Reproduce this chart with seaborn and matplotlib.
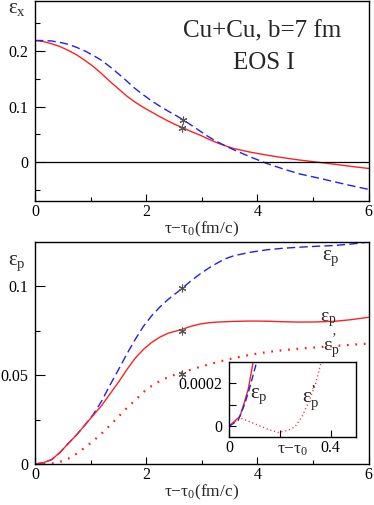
import numpy as np
import pandas as pd
import matplotlib
matplotlib.use("Agg")
import matplotlib.pyplot as plt
from matplotlib.ticker import MultipleLocator, FixedLocator
import seaborn as sns

# ---------------- data ----------------
# top panel: spatial eccentricity eps_x
tx = [0, 0.15, 0.3, 0.45, 0.6, 0.75, 0.9, 1.05, 1.2, 1.35, 1.5, 1.65, 1.8, 1.95, 2.1, 2.25,
      2.4, 2.55, 2.66, 2.8, 2.97, 3.12, 3.27, 3.42, 3.57, 3.87, 4.17, 4.47, 4.77, 5.07, 5.37,
      5.67, 6.0]
ex_red = [0.219, 0.217, 0.213, 0.208, 0.201, 0.193, 0.183, 0.172, 0.159, 0.145, 0.132, 0.119,
          0.108, 0.0985, 0.090, 0.0815, 0.0736, 0.0665, 0.0618, 0.0555, 0.0485, 0.0415, 0.035,
          0.0295, 0.0246, 0.018, 0.0126, 0.0078, 0.0036, 0.0, -0.0036, -0.0075, -0.0114]
ex_blue = [0.219, 0.2188, 0.218, 0.2155, 0.212, 0.2065, 0.200, 0.192, 0.183, 0.1715, 0.159,
           0.146, 0.1325, 0.121, 0.110, 0.1005, 0.0915, 0.083, 0.0765, 0.0672, 0.0558, 0.0458,
           0.037, 0.0295, 0.0225, 0.0095, -0.0024, -0.0125, -0.0215, -0.028, -0.035, -0.042,
           -0.049]
star_top_t = [2.66, 2.64]
star_top_v = [0.0765, 0.0618]

# bottom panel: momentum anisotropy eps_p
tp = [0, 0.15, 0.3, 0.45, 0.6, 0.75, 0.9, 1.05, 1.2, 1.35, 1.5, 1.65, 1.8, 1.95, 2.1, 2.25,
      2.4, 2.64, 2.8, 2.97, 3.12, 3.27, 3.42, 3.57, 3.87, 4.17, 4.47, 4.77, 5.07, 5.37, 5.67, 6.0]
ep_blue = [0, 0.0007, 0.0025, 0.0065, 0.0116, 0.0165, 0.022, 0.028, 0.0355, 0.0445, 0.053,
           0.0618, 0.070, 0.0775, 0.0835, 0.0885, 0.0928, 0.0987, 0.103, 0.107, 0.1102, 0.113,
           0.1155, 0.1172, 0.1192, 0.1206, 0.1215, 0.1221, 0.1226, 0.123, 0.1238, 0.1249]
ep_red = [0, 0.0007, 0.0025, 0.0065, 0.0116, 0.0165, 0.022, 0.0275, 0.033, 0.0395, 0.046,
          0.053, 0.0595, 0.0645, 0.0685, 0.0715, 0.0737, 0.0757, 0.0775, 0.0788, 0.0795, 0.0799,
          0.0801, 0.0803, 0.0805, 0.0804, 0.0801, 0.0799, 0.080, 0.0803, 0.0812, 0.0826]
tq = [0, 0.2, 0.36, 0.45, 0.6, 0.75, 0.9, 1.05, 1.2, 1.35, 1.5, 1.65, 1.8, 1.95, 2.1, 2.25,
      2.4, 2.64, 2.97, 3.27, 3.57, 3.87, 4.17, 4.47, 4.77, 5.07, 5.37, 5.67, 6.0]
epq_red = [0, 0, 0.0005, 0.0012, 0.003, 0.0058, 0.0093, 0.013, 0.0172, 0.0218, 0.0266, 0.0315,
           0.0358, 0.0405, 0.044, 0.0468, 0.049, 0.0515, 0.0547, 0.0573, 0.0596, 0.0615, 0.063,
           0.0641, 0.065, 0.0657, 0.0664, 0.0671, 0.0678]
star_bot_t = [2.65, 2.65, 2.65]
star_bot_v = [0.099, 0.0751, 0.0506]

# inset (early times)
ti_red = [0, 0.043, 0.06, 0.076, 0.095]
vi_red = [0, 4.6e-5, 1.1e-4, 1.75e-4, 3.0e-4]
ti_blue = [0, 0.036, 0.063, 0.085, 0.109]
vi_blue = [0, 2.8e-5, 1.07e-4, 1.95e-4, 3.0e-4]
ti_dot = [0, 0.043, 0.08, 0.115, 0.155, 0.193, 0.23, 0.259, 0.285, 0.311, 0.34, 0.363]
vi_dot = [0, 4.0e-5, 2.2e-5, 0.5e-5, -1.5e-5, -2.9e-5, -2.0e-5, -0.3e-5, 4.0e-5, 1.05e-4,
          1.95e-4, 3.0e-4]

xticks_main = [0, 2, 4, 6]
xticklabels_main = ["0", "2", "4", "6"]

# ---------------- style ----------------
sns.set_style("ticks")
plt.rcParams["font.family"] = ["Liberation Serif", "DejaVu Serif"]
plt.rcParams["mathtext.fontset"] = "custom"
plt.rcParams["mathtext.rm"] = "Liberation Serif"
plt.rcParams["mathtext.it"] = "Liberation Serif"
plt.rcParams["axes.linewidth"] = 1.0
plt.rcParams["axes.edgecolor"] = "black"

W, H = 374, 505
fig = plt.figure(figsize=(W / 100, H / 100), dpi=100)

def fr(l, t, r, b):
    return [l / W, 1 - b / H, (r - l) / W, (b - t) / H]

ax1 = fig.add_axes(fr(35, 1, 368.5, 201))
ax2 = fig.add_axes(fr(35, 242, 368.5, 464))
ax3 = fig.add_axes(fr(229, 362, 356, 437))

RED = "#ff2020"
BLUE = "#2020ee"
STAR = "#555555"
LW = 1.0
EPS_FS = 15

def style_axes(ax, fs=11.5):
    for s in ["top", "right", "left", "bottom"]:
        ax.spines[s].set_visible(True)
        ax.spines[s].set_color("black")
    ax.tick_params(which="both", direction="in", top=False, right=False,
                   labelsize=fs, colors="black")
    ax.tick_params(axis="x", which="both", pad=2)
    ax.tick_params(axis="y", which="both", pad=5)
    ax.tick_params(axis="y", which="major", length=7, width=0.8)
    ax.tick_params(axis="y", which="minor", length=3.5, width=0.8)
    ax.tick_params(axis="x", which="major", length=5, width=0.8)
    ax.tick_params(axis="x", which="minor", length=3, width=0.8)

EPS_X = r"ε$_{\rm x}$"
EPS_P = r"ε$_{\rm p}$"
EPS_PP = r"ε$_{\rm p}^{\rm ’}$"

# ---------------- top panel ----------------
sns.lineplot(x=tx, y=ex_red, ax=ax1, color=RED, lw=LW, sort=False)
sns.lineplot(x=tx, y=ex_blue, ax=ax1, color=BLUE, lw=LW, sort=False, linestyle=(0, (6, 3)))
ax1.axhline(0, color="black", lw=0.9)
sns.scatterplot(x=star_top_t, y=star_top_v, ax=ax1, marker=(6, 2, 0), s=25,
                color=STAR, linewidth=0.8, zorder=5)
ax1.set_xlim(0, 6)
ax1.set_ylim(-0.07, 0.29)
ax1.xaxis.set_major_locator(FixedLocator(xticks_main))
ax1.set_xticklabels(xticklabels_main)
ax1.xaxis.set_minor_locator(MultipleLocator(1))
ax1.yaxis.set_major_locator(FixedLocator([0, 0.1, 0.2]))
ax1.set_yticklabels(["0", "0.1", "0.2"])
ax1.yaxis.set_minor_locator(FixedLocator([-0.05, 0.05, 0.15, 0.25]))
style_axes(ax1)
ax1.set_xlabel(r"τ−τ$_{\rm 0}$(fm/c)", fontsize=12.5, labelpad=0)
ax1.set_ylabel("")
ax1.text(0.68, 0.848, "Cu+Cu, b=7 fm", transform=ax1.transAxes, fontsize=18,
         ha="center", va="center")
ax1.text(0.685, 0.69, "EOS I", transform=ax1.transAxes, fontsize=18,
         ha="center", va="center")
fig.text(8 / W, 1 - 13 / H, EPS_X, fontsize=EPS_FS, ha="left", va="baseline")

# ---------------- bottom panel ----------------
sns.lineplot(x=tp, y=ep_blue, ax=ax2, color=BLUE, lw=LW, sort=False, linestyle=(0, (6, 3)))
sns.lineplot(x=tp, y=ep_red, ax=ax2, color=RED, lw=LW, sort=False)
sns.lineplot(x=tq, y=epq_red, ax=ax2, color=RED, lw=1.6, sort=False, linestyle=(0, (0.8, 3.0)))
sns.scatterplot(x=star_bot_t, y=star_bot_v, ax=ax2, marker=(6, 2, 0), s=25,
                color=STAR, linewidth=0.8, zorder=5)
ax2.set_xlim(0, 6)
ax2.set_ylim(0, 0.125)
ax2.xaxis.set_major_locator(FixedLocator(xticks_main))
ax2.set_xticklabels(xticklabels_main)
ax2.xaxis.set_minor_locator(MultipleLocator(1))
ax2.yaxis.set_major_locator(FixedLocator([0, 0.05, 0.1]))
ax2.set_yticklabels(["0", "0.05", "0.1"])
ax2.yaxis.set_minor_locator(FixedLocator([0.025, 0.075]))
style_axes(ax2)
ax2.set_xlabel(r"τ−τ$_{\rm 0}$(fm/c)", fontsize=12.5, labelpad=0)
ax2.set_ylabel("")
fig.text(8 / W, 1 - 265 / H, EPS_P, fontsize=EPS_FS, ha="left", va="baseline")
ax2.text(5.17, 0.1146, EPS_P, fontsize=EPS_FS, ha="left", va="baseline")
ax2.text(5.135, 0.0806, EPS_P, fontsize=14, ha="left", va="baseline")
ax2.text(5.19, 0.0638, EPS_PP, fontsize=14, ha="left", va="baseline")

# ---------------- inset ----------------
ax3.set_facecolor("white")
ax3.set_zorder(5)
sns.lineplot(x=ti_red, y=vi_red, ax=ax3, color=RED, lw=LW, sort=False)
sns.lineplot(x=ti_blue, y=vi_blue, ax=ax3, color=BLUE, lw=LW, sort=False, linestyle=(0, (5, 2.5)))
sns.lineplot(x=ti_dot, y=vi_dot, ax=ax3, color=RED, lw=1.0, sort=False, linestyle=(0, (0.8, 2.0)))
ax3.set_xlim(0, 0.5)
ax3.set_ylim(-5e-5, 3e-4)
ax3.xaxis.set_major_locator(FixedLocator([0, 0.2, 0.4]))
ax3.set_xticklabels(["0", "", "0.4"])
ax3.yaxis.set_major_locator(FixedLocator([0, 1e-4, 2e-4]))
ax3.set_yticklabels(["0", "", "0.0002"])
style_axes(ax3)
ax3.tick_params(which="major", length=5)
ax3.set_xlabel("")
ax3.set_ylabel("")
ax3.text(0.25, -0.175, r"τ−τ$_{\rm 0}$", fontsize=12.5, ha="center", va="center",
         transform=ax3.get_xaxis_transform())
ax3.text(0.0824, 1.3e-4, EPS_P, fontsize=EPS_FS, ha="left", va="baseline")
ax3.text(0.286, 1.12e-4, EPS_PP, fontsize=EPS_FS, ha="left", va="baseline")

fig.savefig("out.png", dpi=100)
